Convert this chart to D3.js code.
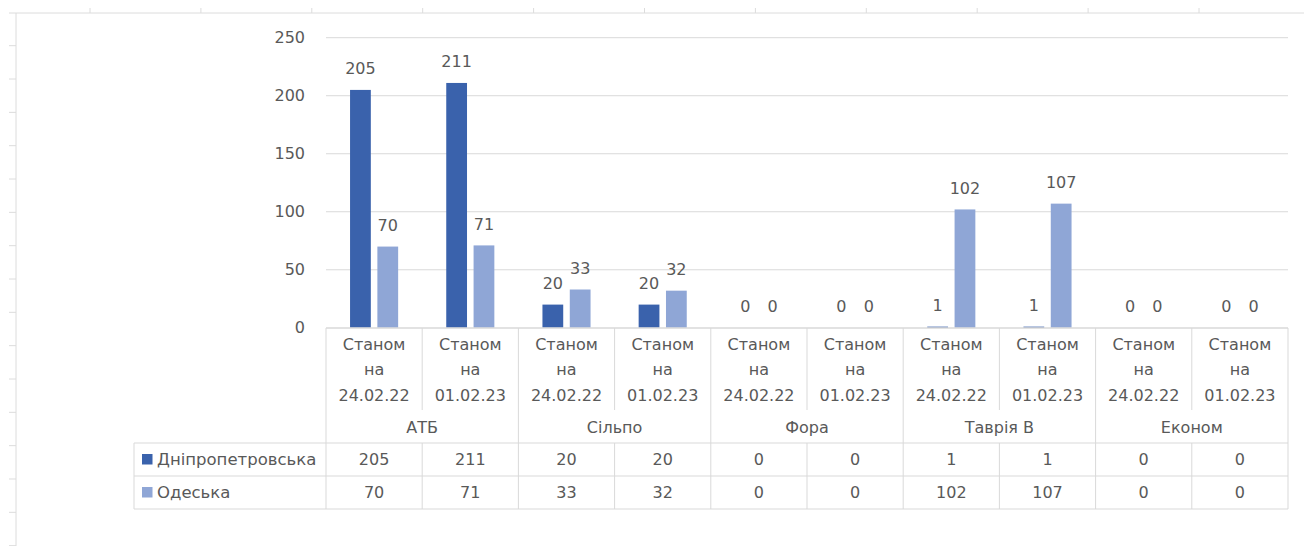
<!DOCTYPE html>
<html><head><meta charset="utf-8">
<script src="https://cdn.jsdelivr.net/npm/d3@7"></script>
<style>body{margin:0;background:#fff}svg{display:block}text{font-family:"DejaVu Sans",sans-serif;font-size:16px;fill:#595959}</style>
</head><body><svg id="c" width="1304" height="546"></svg>
<script>
const stores = ["АТБ","Сільпо","Фора","Таврія В","Економ"];
const dates = ["24.02.22","01.02.23"];
const seriesNames = ["Дніпропетровська","Одеська"];
const dnipro = [205,211,20,20,0,0,1,1,0,0];
const odesa = [70,71,33,32,0,0,102,107,0,0];
const yTicks = [0,50,100,150,200,250];
const colors = ["#3A62AC","#8FA6D6"];

const svg = d3.select("#c");
const grid = "#d9d9d9";
const L = 326, R = 1288;
const cols = d3.range(stores.length*dates.length);
const x0 = d3.scaleBand().domain(cols).range([L,R]);
const x1 = d3.scaleBand().domain([0,1]).range([x0.bandwidth()*0.25, x0.bandwidth()*0.75]).paddingInner(0.24);
const y = d3.scaleLinear().domain([0,250]).range([327.8,37.7]);

// spreadsheet frame artifacts
svg.append("line").attr("x1",9).attr("x2",1304).attr("y1",13).attr("y2",13).attr("stroke","#dcdcdc");
svg.append("line").attr("x1",16).attr("x2",16).attr("y1",13).attr("y2",546).attr("stroke","#dcdcdc");
for(let i=0;i<11;i++){const xx=90+i*110.9;svg.append("line").attr("x1",xx).attr("x2",xx).attr("y1",8).attr("y2",13).attr("stroke","#dcdcdc");}
for(let i=0;i<16;i++){const yy=45.7+i*33.33;svg.append("line").attr("x1",9).attr("x2",16).attr("y1",yy).attr("y2",yy).attr("stroke","#dcdcdc");}

// gridlines
svg.append("g").selectAll("line").data(yTicks.slice(1)).join("line")
  .attr("x1",L).attr("x2",R).attr("y1",d=>y(d)).attr("y2",d=>y(d)).attr("stroke",grid);
svg.append("g").selectAll("text").data(yTicks).join("text")
  .attr("x",305).attr("y",d=>y(d)).attr("dy","0.35em").attr("text-anchor","end").text(d=>d);

// bars
const data = [dnipro, odesa];
data.forEach((vals,s)=>{
  const g = svg.append("g");
  g.selectAll("rect").data(vals).join("rect")
    .attr("x",(d,i)=>x0(i)+x1(s)).attr("width",x1.bandwidth())
    .attr("y",d=>y(d)).attr("height",d=>y(0)-y(d)).attr("fill",colors[s]);
  g.selectAll("text").data(vals).join("text")
    .attr("x",(d,i)=>x0(i)+x1(s)+x1.bandwidth()/2).attr("y",d=>y(d)-15.5)
    .attr("text-anchor","middle").text(d=>d);
});

// table lines
const T = svg.append("g").attr("stroke",grid).attr("fill","none");
const yTop = 328, yHdr = 443, yR1 = 476, yBot = 509, yInner = 410;
T.append("line").attr("x1",L).attr("x2",R).attr("y1",yTop).attr("y2",yTop).attr("stroke-width",1.5);
[yHdr,yR1,yBot].forEach(v=>T.append("line").attr("x1",134).attr("x2",R).attr("y1",v).attr("y2",v));
T.append("line").attr("x1",134).attr("x2",134).attr("y1",yHdr).attr("y2",yBot);
cols.concat([cols.length]).forEach(i=>{
  const xx = i<cols.length ? x0(i) : R;
  if(i%2===0){T.append("line").attr("x1",xx).attr("x2",xx).attr("y1",yTop).attr("y2",yBot);}
  else{
    T.append("line").attr("x1",xx).attr("x2",xx).attr("y1",yTop).attr("y2",yInner);
    T.append("line").attr("x1",xx).attr("x2",xx).attr("y1",yHdr).attr("y2",yBot);
  }
});

// header labels
cols.forEach(i=>{
  const cx = x0(i)+x0.bandwidth()/2;
  const lines = ["Станом","на",dates[i%2]];
  [344,369.5,395].forEach((yy,k)=>svg.append("text").attr("x",cx).attr("y",yy).attr("dy","0.35em").attr("text-anchor","middle").text(lines[k]));
});
stores.forEach((s,j)=>{
  const cx = x0(j*2)+x0.bandwidth();
  svg.append("text").attr("x",cx).attr("y",427).attr("dy","0.35em").attr("text-anchor","middle").text(s);
});
// data rows
const rowY = [459,492];
data.forEach((vals,s)=>{
  svg.append("rect").attr("x",142).attr("y",rowY[s]-5).attr("width",10.5).attr("height",10.5).attr("fill",colors[s]);
  svg.append("text").attr("x",157).attr("y",rowY[s]).attr("dy","0.35em").style("font-size","16.5px").text(seriesNames[s]);
  svg.append("g").selectAll("text").data(vals).join("text")
    .attr("x",(d,i)=>x0(i)+x0.bandwidth()/2).attr("y",rowY[s]).attr("dy","0.35em")
    .attr("text-anchor","middle").text(d=>d);
});
</script></body></html>
